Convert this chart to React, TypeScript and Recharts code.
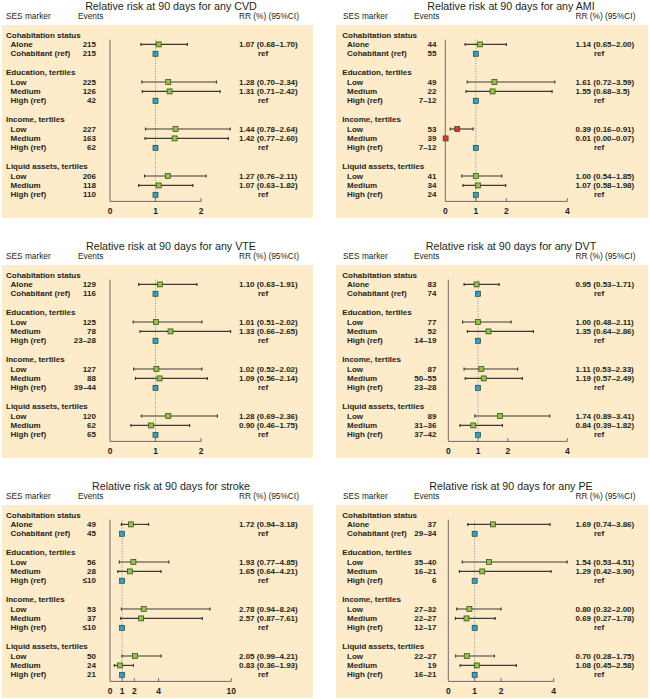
import React from "react";
import { ScatterChart, Scatter, XAxis, YAxis, ErrorBar, ReferenceLine } from "recharts";

// row labels shared by all six panels
const groupLabels = ["Cohabitation status", "Education, tertiles", "Income, tertiles", "Liquid assets, tertiles"];
const itemLabels = [
  ["Alone", "Cohabitant (ref)"],
  ["Low", "Medium", "High (ref)"],
  ["Low", "Medium", "High (ref)"],
  ["Low", "Medium", "High (ref)"],
];

// CVD
const cvdEvents = ["215", "215", "225", "126", "42", "227", "163", "62", "206", "118", "110"];
const cvdRR = ["1.07", "ref", "1.28", "1.31", "ref", "1.44", "1.42", "ref", "1.27", "1.07", "ref"];
const cvdLow = ["0.68", "", "0.70", "0.71", "", "0.78", "0.77", "", "0.76", "0.63", ""];
const cvdHigh = ["1.70", "", "2.34", "2.42", "", "2.64", "2.60", "", "2.11", "1.82", ""];
const cvdTicks = [0, 1, 2];

// AMI
const amiEvents = ["44", "55", "49", "22", "7–12", "53", "39", "7–12", "41", "34", "24"];
const amiRR = ["1.14", "ref", "1.61", "1.55", "ref", "0.39", "0.01", "ref", "1.00", "1.07", "ref"];
const amiLow = ["0.65", "", "0.72", "0.68", "", "0.16", "0.00", "", "0.54", "0.58", ""];
const amiHigh = ["2.00", "", "3.59", "3.5", "", "0.91", "0.07", "", "1.85", "1.98", ""];
const amiTicks = [0, 1, 2, 4];

// VTE
const vteEvents = ["129", "116", "125", "78", "23–28", "127", "88", "39–44", "120", "62", "65"];
const vteRR = ["1.10", "ref", "1.01", "1.33", "ref", "1.02", "1.09", "ref", "1.28", "0.90", "ref"];
const vteLow = ["0.63", "", "0.51", "0.66", "", "0.52", "0.56", "", "0.69", "0.46", ""];
const vteHigh = ["1.91", "", "2.02", "2.65", "", "2.02", "2.14", "", "2.36", "1.75", ""];
const vteTicks = [0, 1, 2];

// DVT
const dvtEvents = ["83", "74", "77", "52", "14–19", "87", "50–55", "23–28", "89", "31–36", "37–42"];
const dvtRR = ["0.95", "ref", "1.00", "1.35", "ref", "1.11", "1.19", "ref", "1.74", "0.84", "ref"];
const dvtLow = ["0.53", "", "0.48", "0.64", "", "0.53", "0.57", "", "0.89", "0.39", ""];
const dvtHigh = ["1.71", "", "2.11", "2.86", "", "2.33", "2.49", "", "3.41", "1.82", ""];
const dvtTicks = [0, 1, 2, 4];

// stroke
const strokeEvents = ["49", "45", "56", "28", "≤10", "53", "37", "≤10", "50", "24", "21"];
const strokeRR = ["1.72", "ref", "1.93", "1.65", "ref", "2.78", "2.57", "ref", "2.05", "0.83", "ref"];
const strokeLow = ["0.94", "", "0.77", "0.64", "", "0.94", "0.87", "", "0.99", "0.36", ""];
const strokeHigh = ["3.18", "", "4.85", "4.21", "", "8.24", "7.61", "", "4.21", "1.93", ""];
const strokeTicks = [0, 1, 2, 4, 10];

// PE
const peEvents = ["37", "29–34", "35–40", "16–21", "6", "27–32", "22–27", "12–17", "22–27", "19", "16–21"];
const peRR = ["1.69", "ref", "1.54", "1.29", "ref", "0.80", "0.69", "ref", "0.70", "1.08", "ref"];
const peLow = ["0.74", "", "0.53", "0.42", "", "0.32", "0.27", "", "0.28", "0.45", ""];
const peHigh = ["3.86", "", "4.51", "3.90", "", "2.00", "1.78", "", "1.75", "2.58", ""];
const peTicks = [0, 1, 2, 4];

const FONT = '"Liberation Sans", Arial, Helvetica, sans-serif';
const TEXT = "#231f20";
const BG = "#fdebc9";
const GREEN = "#8dc63f";
const BLUE = "#27a2df";
const RED = "#e2342b";
const LINE = "#3a3a3a";

const W = 325;
const H = 220;
const PLOT_TOP = 30.3;
const PLOT_BOTTOM = 201.4;
const Y_MIN = -0.5;
const Y_MAX = 17.7;

type Row = { kind: "header" | "item" | "blank"; label?: string; idx?: number };

function buildRows(): Row[] {
  const rows: Row[] = [];
  let idx = 0;
  groupLabels.forEach((g, gi) => {
    if (gi > 0) rows.push({ kind: "blank" });
    rows.push({ kind: "header", label: g });
    itemLabels[gi].forEach((l) => rows.push({ kind: "item", label: l, idx: idx++ }));
  });
  return rows;
}
const rows = buildRows();
const rowTicks = rows.map((_, i) => i);

type PanelProps = {
  title: string;
  events: string[];
  rr: string[];
  low: string[];
  high: string[];
  ticks: number[];
  side: "left" | "right";
  left: number;
  top: number;
  plotLeft: number;
  perUnit: number;
  maxX: number;
};

function Panel(p: PanelProps) {
  const isLeft = p.side === "left";
  const col = isLeft
    ? { header: 6, item: 10.5, events: 96, rr: 239, ref: 263, ses: 6, ev: 78, title: 171, bgL: 2, bgW: 311 }
    : { header: 17.3, item: 22, events: 111.5, rr: 250.5, ref: 274, ses: 18, ev: 89, title: 186, bgL: 11, bgW: 312 };

  const points = rows
    .map((r, i) => ({ r, i }))
    .filter(({ r }) => r.kind === "item")
    .map(({ r, i }) => {
      const k = r.idx as number;
      const isRef = p.rr[k] === "ref";
      const x = isRef ? 1 : Number(p.rr[k]);
      const lo = Number(p.low[k]);
      const hi = Number(p.high[k]);
      const sig = !isRef && (hi < 1 || lo > 1);
      return {
        row: i,
        x,
        ci: isRef ? undefined : [x - lo, hi - x],
        color: isRef ? BLUE : sig ? RED : GREEN,
      };
    });

  const axisEnd = p.ticks[p.ticks.length - 1];
  const right = W - p.plotLeft - p.perUnit * p.maxX;

  const renderRow = (props: any) => {
    const i = props.payload.value as number;
    const r = rows[i];
    const y = props.y;
    const base = { fontFamily: FONT, fontSize: 8, fontWeight: 700, fill: TEXT, dominantBaseline: "central" as const };
    if (!r || r.kind === "blank") return <g />;
    if (r.kind === "header")
      return (
        <text x={col.header} y={y} {...base}>
          {r.label}
        </text>
      );
    const k = r.idx as number;
    const isRef = p.rr[k] === "ref";
    return (
      <g>
        <text x={col.item} y={y} {...base}>
          {r.label}
        </text>
        <text x={col.events} y={y} textAnchor="end" {...base}>
          {p.events[k]}
        </text>
        {isRef ? (
          <text x={col.ref} y={y} textAnchor="middle" {...base}>
            ref
          </text>
        ) : (
          <text x={col.rr} y={y} {...base}>
            {`${p.rr[k]} (${p.low[k]}–${p.high[k]})`}
          </text>
        )}
      </g>
    );
  };

  const square = (props: any) => {
    const { cx, cy, payload } = props;
    return <rect x={cx - 2.5} y={cy - 2.5} width={5} height={5} fill={payload.color} stroke="#33401f" strokeWidth={0.7} />;
  };

  const headStyle: React.CSSProperties = {
    position: "absolute",
    top: 12,
    fontFamily: FONT,
    fontSize: 8.3,
    lineHeight: "9px",
    color: TEXT,
    whiteSpace: "nowrap",
  };

  return (
    <div style={{ position: "absolute", left: p.left, top: p.top, width: W, height: H }}>
      <div style={{ position: "absolute", left: col.bgL, top: 25, width: col.bgW, height: 193, background: BG }} />
      <div
        style={{
          position: "absolute",
          left: col.title - 150,
          width: 300,
          top: 0,
          textAlign: "center",
          fontFamily: FONT,
          fontSize: 10.7,
          lineHeight: "12px",
          color: TEXT,
        }}
      >
        {p.title}
      </div>
      <div style={{ ...headStyle, left: col.ses }}>SES marker</div>
      <div style={{ ...headStyle, left: col.ev }}>Events</div>
      <div style={{ ...headStyle, left: col.rr }}>RR (%) (95%CI)</div>
      <div style={{ position: "absolute", left: 0, top: 0 }}>
        <ScatterChart width={W} height={H} margin={{ top: PLOT_TOP, right, bottom: 0, left: 0 }}>
          <XAxis
            type="number"
            dataKey="x"
            domain={[0, p.maxX]}
            ticks={p.ticks}
            interval={0}
            axisLine={false}
            tickLine={false}
            tickSize={5}
            tickMargin={1.6}
            height={H - PLOT_BOTTOM}
            tick={{ fontFamily: FONT, fontSize: 8.5, fontWeight: 700, fill: TEXT }}
          />
          <YAxis
            type="number"
            dataKey="row"
            domain={[Y_MIN, Y_MAX]}
            reversed
            ticks={rowTicks}
            interval={0}
            axisLine={false}
            tickLine={false}
            width={p.plotLeft}
            tick={renderRow}
          />
          <ReferenceLine
            segment={[{ x: 1, y: 0.5 }, { x: 1, y: Y_MAX }]}
            stroke="#8a8a8a"
            strokeDasharray="1 1.6"
            strokeWidth={1}
            ifOverflow="visible"
          />
          <ReferenceLine
            segment={[{ x: 0, y: 0.5 }, { x: 0, y: Y_MAX }]}
            stroke="#6b6b6b"
            strokeWidth={1}
            ifOverflow="visible"
          />
          <ReferenceLine
            segment={[{ x: 0, y: Y_MAX }, { x: axisEnd, y: Y_MAX }]}
            stroke="#6b6b6b"
            strokeWidth={1}
            ifOverflow="visible"
          />
          {p.ticks
            .filter((t) => t > 0)
            .map((t) => (
              <ReferenceLine
                key={t}
                segment={[{ x: t, y: Y_MAX - 0.35 }, { x: t, y: Y_MAX }]}
                stroke="#6b6b6b"
                strokeWidth={1}
                ifOverflow="visible"
              />
            ))}
          <Scatter data={points} shape={square} isAnimationActive={false}>
            <ErrorBar dataKey="ci" direction="x" width={1.5} stroke={LINE} strokeWidth={1.2} isAnimationActive={false} />
          </Scatter>
        </ScatterChart>
      </div>
    </div>
  );
}

export default function App() {
  return (
    <div style={{ position: "absolute", left: 0, top: 0, width: 650, height: 699, overflow: "hidden", background: "#fff" }}>
      <Panel title="Relative risk at 90 days for any CVD" events={cvdEvents} rr={cvdRR} low={cvdLow} high={cvdHigh}
        ticks={cvdTicks} side="left" left={0} top={0} plotLeft={110} perUnit={45.5} maxX={3} />
      <Panel title="Relative risk at 90 days for any AMI" events={amiEvents} rr={amiRR} low={amiLow} high={amiHigh}
        ticks={amiTicks} side="right" left={325} top={0} plotLeft={120.3} perUnit={30.5} maxX={4} />
      <Panel title="Relative risk at 90 days for any VTE" events={vteEvents} rr={vteRR} low={vteLow} high={vteHigh}
        ticks={vteTicks} side="left" left={0} top={240} plotLeft={110} perUnit={45.5} maxX={3} />
      <Panel title="Relative risk at 90 days for any DVT" events={dvtEvents} rr={dvtRR} low={dvtLow} high={dvtHigh}
        ticks={dvtTicks} side="right" left={325} top={240} plotLeft={123.3} perUnit={29.75} maxX={4} />
      <Panel title="Relative risk at 90 days for stroke" events={strokeEvents} rr={strokeRR} low={strokeLow} high={strokeHigh}
        ticks={strokeTicks} side="left" left={0} top={480} plotLeft={110} perUnit={12.13} maxX={10} />
      <Panel title="Relative risk at 90 days for any PE" events={peEvents} rr={peRR} low={peLow} high={peHigh}
        ticks={peTicks} side="right" left={325} top={480} plotLeft={123.3} perUnit={26.35} maxX={5} />
    </div>
  );
}
